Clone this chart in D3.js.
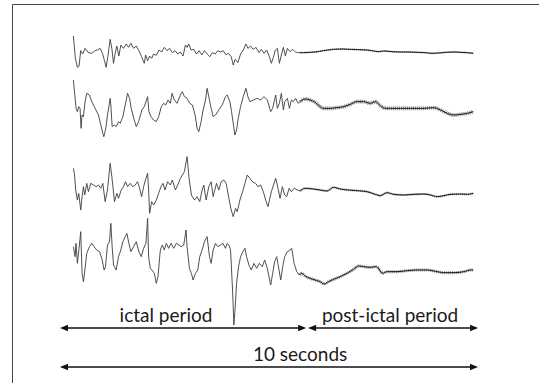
<!DOCTYPE html>
<html>
<head>
<meta charset="utf-8">
<script src="https://cdn.jsdelivr.net/npm/d3@7"></script>
<style>
  html, body { margin: 0; padding: 0; background: #fff; }
  svg { display: block; }
</style>
</head>
<body>
<svg id="chart" width="539" height="383"></svg>
<script>
// Four EEG channels sampled at 125 Hz; each point is [sample index, amplitude in µV].
const SAMPLE_RATE = 125;
const DURATION_S = 10;

const ch1Ictal = [[40,42],[46,-25],[52,-52],[57,-48],[62,-2],[68,-12],[75,5],[85,-8],[95,-10],[105,-2],[112,0],[120,5],[127,-10],[133,-32],[138,-52],[143,-20],[150,32],[155,5],[160,-40],[165,-10],[170,12],[176,-18],[182,15],[190,5],[198,18],[205,8],[212,20],[220,5],[228,12],[236,-2],[244,-20],[252,-40],[256,-15],[262,-32],[268,-18],[274,-25],[280,-12],[288,-16],[296,0],[304,-6],[312,8],[320,-2],[328,5],[336,-8],[344,-2],[352,-12],[360,-6],[368,-18],[375,15],[380,8],[385,18],[392,0],[400,2],[408,-12],[416,-2],[424,-15],[432,-2],[440,-12],[448,-20],[456,-8],[464,-12],[472,-2],[480,-6],[488,-2],[496,-14],[504,-10],[512,-20],[518,-45],[524,-28],[532,-38],[540,-12],[548,0],[556,18],[562,5],[570,12],[578,2],[586,8],[595,-8],[602,2],[610,-10],[618,0],[626,-20],[632,-40],[638,-22],[644,0],[650,5],[656,-40],[662,-15],[668,8],[674,-18],[680,5],[688,-5],[696,2],[704,-6],[710,-8]];
const ch1Post = [[718,-8],[728,-8],[748,-7],[763,-6],[788,-2],[818,2],[843,3],[868,2],[893,1],[918,0],[938,-3],[953,-5],[968,-3],[993,-5],[1018,-6],[1043,-6],[1068,-7],[1093,-8],[1113,-10],[1133,-9],[1153,-7],[1178,-6],[1198,-7],[1218,-8],[1236,-10]];

const ch2Ictal = [[40,60],[48,-25],[52,-35],[56,-20],[60,-25],[63,-85],[66,-45],[70,-50],[75,-5],[80,20],[88,15],[95,-5],[105,-25],[115,-45],[122,-75],[128,-100],[131,-110],[137,-85],[142,-45],[147,-15],[150,5],[152,-15],[156,-80],[162,-75],[168,-80],[175,-65],[180,-70],[188,-50],[195,-15],[202,20],[208,5],[213,-25],[222,-60],[228,-80],[235,-65],[245,-30],[252,-20],[262,10],[266,-35],[272,-50],[280,-60],[288,-65],[295,-50],[303,-20],[310,-10],[316,-15],[323,0],[330,-10],[335,20],[342,0],[350,-10],[360,15],[366,25],[372,10],[380,5],[388,-10],[396,-15],[404,-45],[410,-85],[415,-95],[422,-65],[428,-30],[435,0],[440,35],[446,5],[452,-25],[458,-50],[465,-45],[475,-30],[485,-15],[495,10],[500,15],[508,-5],[513,-35],[518,-70],[523,-105],[528,-90],[533,-55],[540,-20],[548,10],[556,35],[562,10],[568,-5],[578,0],[590,5],[600,0],[610,10],[620,0],[630,-35],[636,-25],[645,15],[650,-25],[656,-10],[662,20],[668,-30],[672,-5],[680,5],[686,-25],[692,0],[698,-5],[705,5],[712,-10]];
const ch2Post = [[718,-5],[733,3],[748,0],[763,-7],[778,-20],[788,-25],[808,-25],[828,-23],[848,-20],[868,-13],[888,-5],[908,-5],[928,-10],[943,-5],[958,-17],[973,-25],[988,-25],[1018,-25],[1048,-25],[1088,-25],[1118,-23],[1138,-30],[1158,-40],[1178,-45],[1198,-43],[1218,-40],[1236,-35]];

const ch3Ictal = [[40,65],[43,50],[47,0],[52,-30],[56,-10],[62,-60],[66,-20],[70,10],[74,-15],[80,20],[85,-5],[92,20],[100,15],[108,10],[115,15],[122,5],[128,20],[135,-35],[142,0],[150,80],[155,40],[163,-35],[170,-10],[175,-25],[183,0],[190,10],[196,25],[202,10],[210,20],[218,10],[225,15],[232,25],[238,5],[244,-20],[250,10],[257,35],[262,50],[265,0],[268,-70],[274,-35],[280,-45],[288,-30],[295,-10],[302,10],[308,20],[314,0],[322,25],[330,15],[336,30],[345,0],[352,15],[360,35],[372,55],[380,100],[386,35],[393,-15],[402,-30],[410,-20],[418,-35],[425,0],[430,15],[437,-30],[445,10],[452,25],[458,-20],[468,20],[475,0],[482,25],[490,30],[497,20],[505,-25],[512,-60],[518,-80],[525,-55],[530,-65],[538,-30],[546,-5],[553,20],[560,45],[568,35],[575,25],[585,20],[592,10],[600,15],[608,-5],[615,-30],[622,-50],[632,-5],[645,35],[652,5],[658,-25],[665,10],[672,-15],[678,-20],[685,5],[692,-5],[700,5],[710,0]];
const ch3Post = [[718,-3],[733,5],[758,3],[778,0],[798,-3],[818,8],[838,3],[863,0],[888,-2],[918,-5],[943,-13],[958,-17],[978,-8],[998,-13],[1028,-15],[1058,-13],[1088,-12],[1108,-15],[1128,-20],[1148,-17],[1168,-13],[1198,-12],[1218,-13],[1236,-10]];

const ch4Ictal = [[40,10],[45,-20],[48,20],[52,-40],[57,5],[62,55],[66,-70],[70,-95],[75,-55],[80,-10],[88,10],[95,20],[102,10],[110,0],[118,-5],[125,-25],[132,-60],[136,-50],[142,15],[148,25],[152,80],[156,10],[160,-45],[168,-60],[175,-20],[182,0],[188,25],[195,40],[200,50],[206,20],[212,-5],[220,10],[228,25],[236,-5],[243,-20],[250,5],[257,20],[262,95],[265,-20],[270,-55],[275,-60],[282,-70],[288,-100],[293,-80],[300,0],[306,15],[312,0],[318,20],[325,5],[332,20],[340,5],[348,20],[356,15],[362,10],[370,15],[377,60],[380,10],[387,-55],[393,-70],[398,-90],[405,-70],[412,-60],[418,-20],[425,0],[432,25],[440,40],[447,-20],[452,-40],[458,0],[465,20],[472,10],[480,15],[487,20],[495,5],[500,20],[505,15],[510,0],[516,-120],[520,-225],[524,-170],[528,-100],[534,-50],[540,-20],[547,-5],[553,5],[558,-20],[565,-45],[572,-60],[580,-40],[588,-55],[596,-40],[605,-50],[612,-30],[620,-55],[630,-105],[636,-70],[642,-35],[648,-20],[655,-60],[660,-90],[666,-50],[672,-20],[680,-5],[688,0],[693,5],[700,-40],[708,-65]];
const ch4Post = [[716,-75],[723,-70],[733,-78],[748,-85],[763,-90],[778,-95],[790,-102],[803,-95],[818,-88],[838,-80],[858,-70],[878,-58],[893,-48],[908,-50],[928,-52],[946,-50],[956,-60],[964,-70],[978,-65],[1008,-65],[1038,-62],[1068,-60],[1098,-60],[1128,-65],[1148,-68],[1178,-68],[1208,-65],[1228,-60],[1236,-60]];

const channels = ["ch1", "ch2", "ch3", "ch4"];
const ictalSeries = [ch1Ictal, ch2Ictal, ch3Ictal, ch4Ictal];
const postSeries = [ch1Post, ch2Post, ch3Post, ch4Post];

// Period annotations, in sample indices.
const periodLabels = ["ictal period", "post-ictal period"];
const periodStart = [0, 742];
const periodEnd = [736, 1250];
const periodLabelAt = [317, 987];
const spanLabel = "10 seconds";
const spanStart = 0;
const spanEnd = DURATION_S * SAMPLE_RATE;
const spanLabelAt = 718;

const svg = d3.select("#chart");

const x = d3.scaleLinear().domain([0, DURATION_S * SAMPLE_RATE]).range([60, 478]);
// amplitude offset around each channel's baseline (µV -> px)
const amp = d3.scaleLinear().domain([-300, 300]).range([100, -100]);
const baseline = d3.scaleOrdinal().domain(channels).range([50, 100, 190, 250]);
// width of the low-amplitude background activity band after the seizure
const haloWidth = d3.scaleOrdinal().domain(channels).range([1.8, 3.6, 2.2, 3.0]);

// frame
svg.append("path")
  .attr("d", "M12.5,383 V4.5 H539")
  .attr("fill", "none")
  .attr("stroke", "#444")
  .attr("stroke-width", 1);

const line = d3.line()
  .x(d => x(d[0]))
  .y(d => amp(d[1]));
const smoothLine = d3.line()
  .x(d => x(d[0]))
  .y(d => amp(d[1]))
  .curve(d3.curveMonotoneX);

const traces = svg.append("g").attr("class", "traces");
channels.forEach((ch, i) => {
  const g = traces.append("g").attr("transform", `translate(0,${baseline(ch)})`);
  const ictal = ictalSeries[i];
  const post = postSeries[i];
  g.append("path")
    .attr("d", line(ictal.concat([post[0]])))
    .attr("fill", "none")
    .attr("stroke", "#3c3c3c")
    .attr("stroke-width", 0.9)
    .attr("stroke-linejoin", "round");
  // fuzzy band for the fast background activity
  g.append("path")
    .attr("d", smoothLine(post))
    .attr("fill", "none")
    .attr("stroke", "#333")
    .attr("stroke-opacity", 0.55)
    .attr("stroke-width", haloWidth(ch))
    .attr("stroke-dasharray", "1.2,0.8")
    .attr("stroke-linejoin", "round");
  g.append("path")
    .attr("d", smoothLine(post))
    .attr("fill", "none")
    .attr("stroke", "#1a1a1a")
    .attr("stroke-width", 1)
    .attr("stroke-linejoin", "round");
});

// double-headed arrows
function arrow(x0, x1, y) {
  const g = svg.append("g");
  const head = 8, half = 3.2;
  g.append("line")
    .attr("x1", x0 + 2).attr("x2", x1 - 2)
    .attr("y1", y).attr("y2", y)
    .attr("stroke", "#111").attr("stroke-width", 1.5);
  g.append("path")
    .attr("d", `M${x0},${y} L${x0 + head},${y - half} L${x0 + head},${y + half} Z`)
    .attr("fill", "#111");
  g.append("path")
    .attr("d", `M${x1},${y} L${x1 - head},${y - half} L${x1 - head},${y + half} Z`)
    .attr("fill", "#111");
}

const labelFont = "Lato, 'Liberation Sans', sans-serif";
const periodY = 328, periodTextY = 322;
periodLabels.forEach((label, i) => {
  arrow(x(periodStart[i]), x(periodEnd[i]), periodY);
  svg.append("text")
    .attr("x", x(periodLabelAt[i]))
    .attr("y", periodTextY)
    .attr("text-anchor", "middle")
    .attr("font-family", labelFont)
    .attr("font-size", 19)
    .attr("fill", "#1a1a1a")
    .text(label);
});

arrow(x(spanStart), x(spanEnd), 367);
svg.append("text")
  .attr("x", x(spanLabelAt))
  .attr("y", 361)
  .attr("text-anchor", "middle")
  .attr("font-family", labelFont)
  .attr("font-size", 19)
  .attr("fill", "#1a1a1a")
  .text(spanLabel);
</script>
</body>
</html>
